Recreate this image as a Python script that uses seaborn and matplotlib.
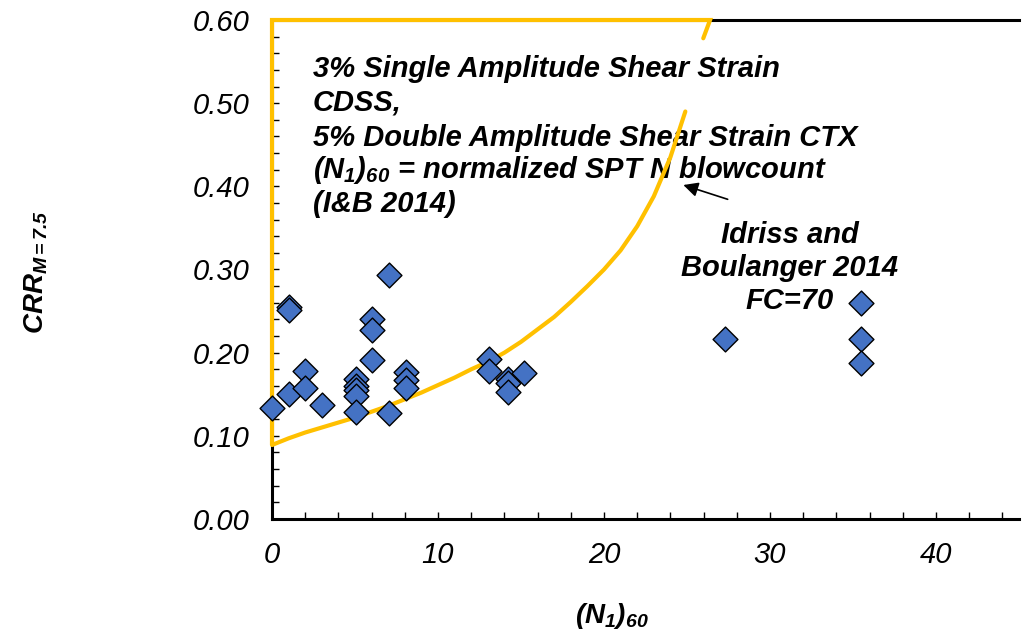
import matplotlib
matplotlib.use("Agg")
import matplotlib.pyplot as plt
import seaborn as sns
import pandas as pd
from matplotlib.ticker import MultipleLocator, FormatStrFormatter

# ---- data ----
n160 = [0, 1.05, 1.05, 1.05, 2.0, 2.0, 3.0,
        5.05, 5.05, 5.05, 5.05, 5.05,
        6.05, 6.05, 6.05, 7.05, 7.05,
        8.1, 8.1, 8.1, 13.1, 13.1,
        14.2, 14.2, 14.2, 15.2, 27.3,
        35.5, 35.5, 35.5]
crr = [0.134, 0.255, 0.251, 0.150, 0.178, 0.157, 0.137,
       0.168, 0.160, 0.155, 0.148, 0.129,
       0.240, 0.227, 0.191, 0.293, 0.127,
       0.177, 0.167, 0.158, 0.192, 0.178,
       0.168, 0.163, 0.153, 0.176, 0.216,
       0.260, 0.216, 0.187]

# Idriss & Boulanger 2014 curve (FC=70)
curve_n = [0, 1, 2, 3, 4, 5, 6, 7, 8, 9, 10, 11, 12, 13, 14, 15, 16, 17,
           18, 19, 20, 21, 22, 23, 24, 24.9]
curve_crr = [0.089, 0.097, 0.104, 0.110, 0.116, 0.122, 0.129, 0.136, 0.144,
             0.152, 0.161, 0.170, 0.180, 0.189, 0.200, 0.213, 0.228, 0.243,
             0.261, 0.280, 0.300, 0.323, 0.352, 0.388, 0.435, 0.490]
# boundary and stub of the same curve near the top
frame_n = [0, 0, 26.39, 25.98]
frame_crr = [0.089, 0.60, 0.60, 0.578]

text_lines = ["3% Single Amplitude Shear Strain",
              "CDSS,",
              "5% Double Amplitude Shear Strain CTX",
              r"$(N_1)_{60}$ = normalized SPT N blowcount",
              "(I&B 2014)"]
text_y = [0.5318, 0.4913, 0.4485, 0.4096, 0.3695]
ib_lines = ["Idriss and", "Boulanger 2014", "FC=70"]
ib_y = [0.3318, 0.2922, 0.2525]

sns.set_theme(style="white")
plt.rcParams['font.family'] = ['Liberation Sans', 'DejaVu Sans']
plt.rcParams['text.color'] = 'black'
plt.rcParams['mathtext.fontset'] = 'custom'
plt.rcParams['mathtext.rm'] = 'Liberation Sans:bold:italic'
plt.rcParams['mathtext.it'] = 'Liberation Sans:bold:italic'
plt.rcParams['mathtext.bf'] = 'Liberation Sans:bold:italic'

YELLOW = "#FFC000"
BLUE = "#4472C4"

fig = plt.figure(figsize=(10.22, 6.43), dpi=100)
ax = fig.add_axes([272/1022, 124/643, 747/1022, 499/643])

df = pd.DataFrame({"n": n160, "crr": crr})
cdf = pd.DataFrame({"n": curve_n, "crr": curve_crr})
fdf = pd.DataFrame({"n": frame_n, "crr": frame_crr})

sns.lineplot(data=cdf, x="n", y="crr", ax=ax, color=YELLOW, lw=3, sort=False,
             zorder=3)
ax.plot(fdf["n"], fdf["crr"], color=YELLOW, lw=3, zorder=4, clip_on=False,
        solid_joinstyle='miter')
sns.scatterplot(data=df, x="n", y="crr", ax=ax, marker="D", s=160,
                color=BLUE, edgecolor="black", linewidth=1.0, zorder=5,
                clip_on=False)

ax.set_xlim(0, 45)
ax.set_ylim(0, 0.60)
ax.xaxis.set_major_locator(MultipleLocator(10))
ax.xaxis.set_minor_locator(MultipleLocator(2))
ax.yaxis.set_major_locator(MultipleLocator(0.10))
ax.yaxis.set_minor_locator(MultipleLocator(0.02))
ax.yaxis.set_major_formatter(FormatStrFormatter('%.2f'))
ax.xaxis.set_major_formatter(FormatStrFormatter('%d'))
ax.tick_params(which='both', direction='in', length=5, width=1, color='black',
               bottom=True, left=True, top=False, right=False)
ax.tick_params(axis='x', which='major', pad=16)
ax.tick_params(axis='y', which='major', pad=16)
for lab in ax.get_xticklabels() + ax.get_yticklabels():
    lab.set_fontsize(21)
    lab.set_fontstyle('italic')
    lab.set_color('black')

for side in ['left', 'bottom', 'top']:
    ax.spines[side].set_color('black')
    ax.spines[side].set_linewidth(2.2)
ax.spines['right'].set_visible(False)

ax.set_xlabel("")
ax.set_ylabel("")
fig.text(612/1022, 1 - 623/643, r"$(N_1)_{60}$", ha='center', va='baseline',
         fontsize=20, color='black')
fig.text(36/1022, 1 - 272/643, r"$CRR_{M=7.5}$", ha='center', va='center',
         rotation=90, fontsize=20, color='black')

for s, yv in zip(text_lines, text_y):
    ax.text(2.47, yv, s, fontsize=21, fontweight='bold', fontstyle='italic',
            ha='left', va='baseline', zorder=2, color='black')
for s, yv in zip(ib_lines, ib_y):
    ax.text(31.2, yv, s, fontsize=21, fontweight='bold', fontstyle='italic',
            ha='center', va='baseline', zorder=2, color='black')

ax.annotate("", xy=(24.78, 0.4016), xytext=(27.45, 0.3844),
            arrowprops=dict(arrowstyle='-|>', color='black', lw=1.2,
                            mutation_scale=22, shrinkA=0, shrinkB=0),
            zorder=6)

fig.savefig("out.png", dpi=100)
